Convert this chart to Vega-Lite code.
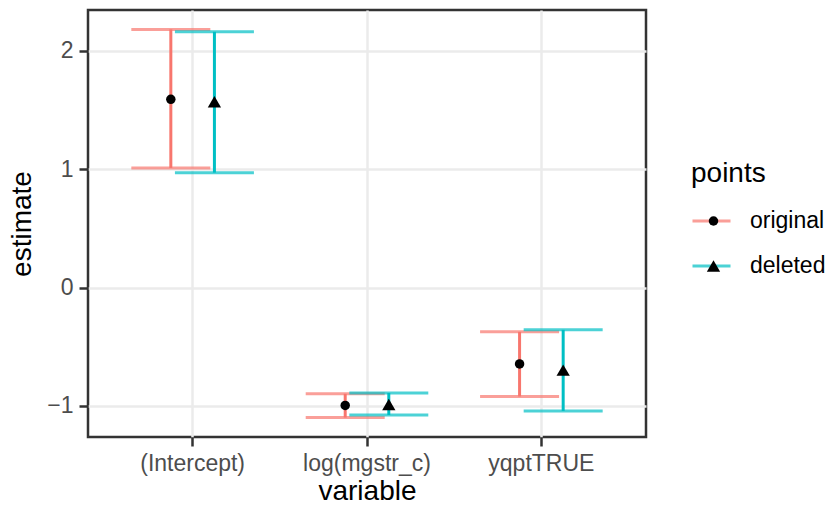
{
  "$schema": "https://vega.github.io/schema/vega-lite/v6.json",
  "autosize": {"type": "none"},
  "width": 558,
  "height": 427,
  "padding": {"left": 88, "top": 10, "right": 188, "bottom": 69},
  "background": "white",
  "config": {
    "font": "Liberation Sans",
    "view": {"stroke": "#333333", "strokeWidth": 2.5},
    "axis": {
      "domain": false,
      "labelFont": "Liberation Sans",
      "titleFont": "Liberation Sans",
      "labelColor": "#4D4D4D",
      "labelFontSize": 23,
      "titleFontSize": 28,
      "titleFontWeight": "normal",
      "titleColor": "black",
      "tickColor": "#333333",
      "tickWidth": 2.5,
      "tickSize": 9,
      "labelPadding": 6,
      "gridColor": "#EBEBEB"
    },
    "legend": {
      "labelFont": "Liberation Sans",
      "titleFont": "Liberation Sans"
    }
  },
  "data": {
    "values": [
      {"variable": "(Intercept)", "points": "original", "estimate": 1.59, "lo": 1.01, "hi": 2.18},
      {"variable": "(Intercept)", "points": "deleted", "estimate": 1.569, "lo": 0.97, "hi": 2.16},
      {"variable": "log(mgstr_c)", "points": "original", "estimate": -0.995, "lo": -1.098, "hi": -0.897},
      {"variable": "log(mgstr_c)", "points": "deleted", "estimate": -0.987, "lo": -1.076, "hi": -0.89},
      {"variable": "yqptTRUE", "points": "original", "estimate": -0.645, "lo": -0.92, "hi": -0.374},
      {"variable": "yqptTRUE", "points": "deleted", "estimate": -0.697, "lo": -1.042, "hi": -0.357}
    ]
  },
  "encoding": {
    "x": {
      "field": "variable",
      "type": "nominal",
      "sort": ["(Intercept)", "log(mgstr_c)", "yqptTRUE"],
      "scale": {"type": "band", "paddingInner": 0, "paddingOuter": 0.1},
      "axis": {
        "title": "variable",
        "labelAngle": 0,
        "grid": true,
        "gridWidth": 2.5,
        "bandPosition": 0.5,
        "titlePadding": 2
      }
    },
    "xOffset": {
      "field": "points",
      "type": "nominal",
      "scale": {"domain": ["original", "deleted"], "paddingInner": 0, "paddingOuter": 1}
    }
  },
  "layer": [
    {
      "mark": {"type": "rule", "strokeWidth": 3},
      "encoding": {
        "y": {
          "field": "lo",
          "type": "quantitative",
          "scale": {"domain": [-1.262, 2.344], "nice": false, "zero": false},
          "axis": {
            "title": "estimate",
            "values": [-1, -0.5, 0, 0.5, 1, 1.5, 2],
            "format": "d",
            "labelExpr": "datum.value % 1 === 0 ? datum.label : ''",
            "grid": true,
            "gridWidth": {"condition": {"test": "datum.value % 1 !== 0", "value": 1.3}, "value": 2.5},
            "tickOpacity": {"condition": {"test": "datum.value % 1 !== 0", "value": 0}, "value": 1},
            "titlePadding": 10
          }
        },
        "y2": {"field": "hi"},
        "color": {
          "field": "points",
          "type": "nominal",
          "scale": {"domain": ["original", "deleted"], "range": ["#F8766D", "#00BFC4"]},
          "legend": {
            "title": "points",
            "orient": "none",
            "legendX": 603,
            "legendY": 150,
            "symbolType": "stroke",
            "symbolSize": 1444,
            "symbolStrokeWidth": 3,
            "titleFontSize": 28,
            "titleFontWeight": "normal",
            "titleColor": "black",
            "titlePadding": 18,
            "labelFontSize": 23,
            "labelColor": "black",
            "labelOffset": 18,
            "clipHeight": 30,
            "rowPadding": 15,
            "padding": 0
          }
        }
      }
    },
    {
      "mark": {"type": "tick", "orient": "horizontal", "size": 79, "thickness": 3},
      "encoding": {
        "y": {"field": "lo", "type": "quantitative"},
        "color": {"field": "points", "type": "nominal"}
      }
    },
    {
      "mark": {"type": "tick", "orient": "horizontal", "size": 79, "thickness": 3},
      "encoding": {
        "y": {"field": "hi", "type": "quantitative"},
        "color": {"field": "points", "type": "nominal"}
      }
    },
    {
      "mark": {"type": "point", "filled": true, "opacity": 1, "color": "black", "size": 90},
      "encoding": {
        "y": {"field": "estimate", "type": "quantitative"},
        "shape": {
          "field": "points",
          "type": "nominal",
          "sort": ["original", "deleted"],
          "scale": {"range": ["circle", "M0,-1.2L1.4,1.2L-1.4,1.2Z"]},
          "legend": {
            "title": " ",
            "orient": "none",
            "legendX": 614,
            "legendY": 150,
            "symbolSize": 90,
            "titleFontSize": 28,
            "titleFontWeight": "normal",
            "titlePadding": 18,
            "labelFontSize": 23,
            "labelExpr": "''",
            "clipHeight": 30,
            "rowPadding": 15,
            "padding": 0
          }
        }
      }
    }
  ]
}
